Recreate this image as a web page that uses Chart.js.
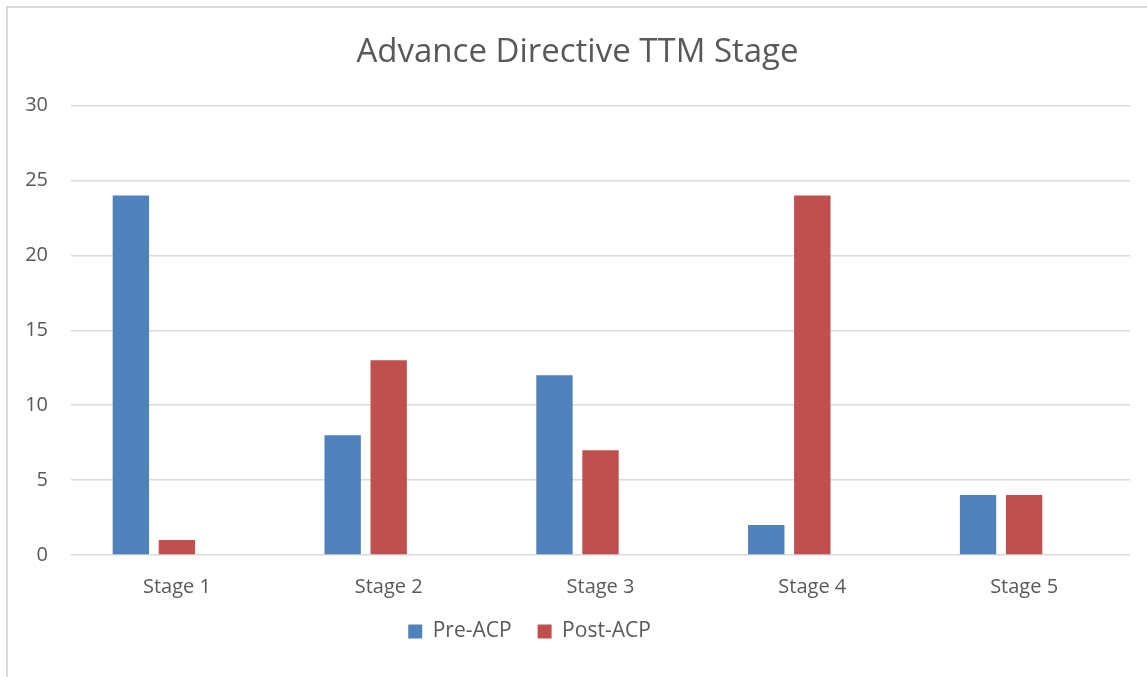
<!DOCTYPE html>
<html>
<head>
<meta charset="utf-8">
<script src="https://cdn.jsdelivr.net/npm/chart.js@4"></script>
<style>
  html, body { margin: 0; padding: 0; background: #ffffff; }
  body { width: 1147px; height: 677px; overflow: hidden; position: relative; }
  #frame {
    position: absolute; left: 6px; top: 6px; width: 1141px; height: 671px;
    border-left: 2px solid #d9d9d9; border-top: 2px solid #d9d9d9;
    box-sizing: border-box;
  }
  #wrap { position: absolute; left: 6px; top: 6px; width: 1141px; height: 671px; }
</style>
</head>
<body>
<div id="frame"></div>
<div id="wrap"><canvas id="chart" width="1141" height="671"></canvas></div>
<script>
const categories = ['Stage 1', 'Stage 2', 'Stage 3', 'Stage 4', 'Stage 5'];
const preACP = [24, 8, 12, 2, 4];
const postACP = [1, 13, 7, 24, 4];
// third, empty series slot (keeps each group's bars left of the category centre)
const emptySeries = [null, null, null, null, null];
const yTicks = [0, 5, 10, 15, 20, 25, 30];

const FONT = "'Open Sans', 'Noto Sans', sans-serif";
const TEXT = '#595959';
const GRID = '#d9d9d9';

// nudges the legend block by a fixed offset after layout
const legendShift = {
  id: 'legendShift',
  afterLayout(chart, args, opts) {
    const lg = chart.legend;
    if (!lg) return;
    lg.left += opts.dx;
    lg.right += opts.dx;
    lg.top += opts.dy;
    lg.bottom += opts.dy;
  }
};

new Chart(document.getElementById('chart'), {
  type: 'bar',
  data: {
    labels: categories,
    datasets: [
      { label: 'Pre-ACP', data: preACP, backgroundColor: '#4F81BD' },
      { label: 'Post-ACP', data: postACP, backgroundColor: '#C0504D' },
      { label: '', data: emptySeries, backgroundColor: '#9BBB59' }
    ]
  },
  options: {
    responsive: false,
    animation: false,
    devicePixelRatio: 1,
    datasets: { bar: { categoryPercentage: 0.652, barPercentage: 0.79 } },
    layout: { padding: { left: 19, right: 17, top: 0, bottom: 1 } },
    plugins: {
      title: {
        display: true,
        text: 'Advance Directive TTM Stage',
        color: TEXT,
        font: { family: FONT, size: 33, weight: 'normal' },
        padding: { top: 27, bottom: 33 }
      },
      legend: {
        position: 'bottom',
        labels: {
          color: TEXT,
          font: { family: FONT, size: 21 },
          boxWidth: 14,
          boxHeight: 14,
          padding: 26,
          filter: (item) => item.datasetIndex < 2
        }
      },
      legendShift: { dx: -48, dy: -24 },
      tooltip: { enabled: false }
    },
    scales: {
      x: {
        grid: { display: false, drawTicks: false },
        border: { display: false },
        ticks: { color: TEXT, font: { family: FONT, size: 20 }, padding: 20 }
      },
      y: {
        min: 0,
        max: 30,
        afterBuildTicks: (scale) => { scale.ticks = yTicks.map(v => ({ value: v })); },
        afterFit: (scale) => { scale.width = 46; },
        grid: { color: GRID, lineWidth: 1.5, drawTicks: false },
        border: { display: false },
        ticks: { color: TEXT, font: { family: FONT, size: 20 }, padding: 23 }
      }
    }
  },
  plugins: [legendShift]
});
</script>
</body>
</html>
